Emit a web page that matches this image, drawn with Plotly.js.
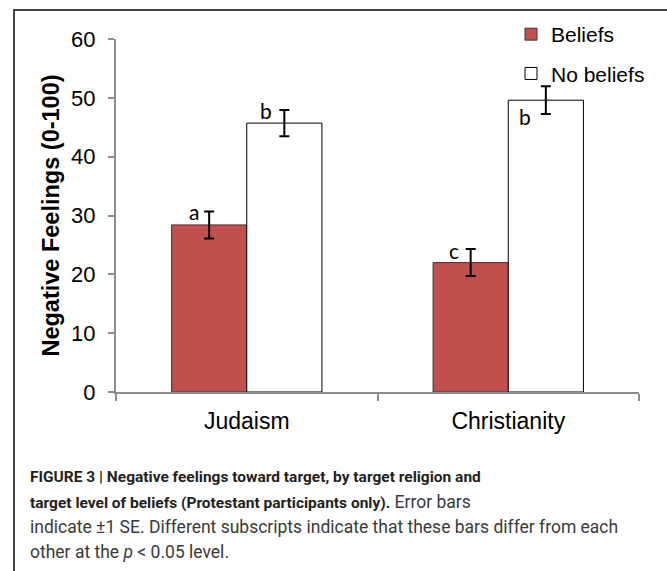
<!DOCTYPE html>
<html>
<head>
<meta charset="utf-8">
<script src="https://cdn.plot.ly/plotly-3.0.1.min.js"></script>
<style>
  html, body { margin: 0; padding: 0; background: #ffffff; }
  #chart { width: 667px; height: 571px; }
</style>
</head>
<body>
<div id="chart"></div>
<script>
// ---- data ----
const categories = ["Judaism", "Christianity"];
const beliefsValues = [28.4, 22.0];
const beliefsSE = [2.3, 2.3];
const noBeliefsValues = [45.7, 49.6];
const noBeliefsSE = [2.25, 2.35];
const seriesNames = ["Beliefs", "No beliefs"];
const beliefsLetters = ["a", "c"];
const noBeliefsLetters = ["b", "b"];
const yTicks = [0, 10, 20, 30, 40, 50, 60];
const yTitle = "Negative Feelings (0-100)";
const B = s => "<span style='font-size:15.5px;color:#231f20'><b>" + s + "</b></span>";
const captionLines = [
  B("FIGURE 3 | Negative feelings toward target, by target religion and"),
  B("target level of beliefs (Protestant participants only).") + " Error bars",
  "indicate \u00b11 SE. Different subscripts indicate that these bars differ from each",
  "other at the <i>p</i> &lt; 0.05 level."
];

// ---- layout geometry ----
const W = 667, H = 571;
const mL = 116, mR = 28, mT = 39, mB = 179;
const pw = W - mL - mR, ph = H - mT - mB;
const px = x => (x - mL) / pw;           // pixel -> paper x
const py = y => (H - mB - y) / ph;       // pixel -> paper y

const axisColor = "#8c8c8c";
const tickFont = "Liberation Sans, Arial, sans-serif";

const traces = [
  {
    type: "bar", name: seriesNames[0], x: categories, y: beliefsValues,
    legendgroup: "g1",
    marker: { color: "#C0504D", line: { color: "#3a3a3a", width: 1 } },
    error_y: { type: "data", array: beliefsSE, visible: true, color: "#000", thickness: 2, width: 5 },
    hoverinfo: "x+y"
  },
  {
    type: "bar", name: seriesNames[1], x: categories, y: noBeliefsValues,
    legendgroup: "g2",
    marker: { color: "#ffffff", line: { color: "#000000", width: 1 } },
    error_y: { type: "data", array: noBeliefsSE, visible: true, color: "#000", thickness: 2, width: 5 },
    hoverinfo: "x+y"
  }
];

// letter annotations (placed relative to each bar's error bar top)
const letterFont = { family: "Lato, Carlito, sans-serif", size: 21, color: "#000" };
const annotations = [
  { x: -0.203, y: beliefsValues[0] + beliefsSE[0] - 0.1, text: beliefsLetters[0] },
  { x: 0.074, y: noBeliefsValues[0] + noBeliefsSE[0] - 0.1, text: noBeliefsLetters[0] },
  { x: 0.792, y: beliefsValues[1] + beliefsSE[1] - 0.2, text: beliefsLetters[1] },
  { x: 1.063, y: noBeliefsValues[1] - 2.8, text: noBeliefsLetters[1] }
].map(a => Object.assign({
  xref: "x", yref: "y", showarrow: false, xanchor: "center", yanchor: "middle",
  font: letterFont
}, a));

const captionY = [477, 502, 527, 552];
captionLines.forEach((t, i) => {
  annotations.push({
    xref: "paper", yref: "paper", x: px(28), y: py(captionY[i]),
    xanchor: "left", yanchor: "middle", showarrow: false, align: "left",
    text: t,
    font: { family: "Roboto, Liberation Sans, sans-serif", size: 17.5, color: "#3a3a3a" }
  });
});

const shapes = [
  { type: "line", xref: "paper", yref: "paper", x0: px(14), x1: px(14), y0: py(10), y1: py(575),
    line: { color: "#444", width: 2 } },
  { type: "line", xref: "paper", yref: "paper", x0: px(13), x1: px(670), y0: py(10), y1: py(10),
    line: { color: "#444", width: 2 } }
];

const layout = {
  width: W, height: H,
  margin: { l: mL, r: mR, t: mT, b: mB, pad: 0 },
  paper_bgcolor: "#fff", plot_bgcolor: "#fff",
  barmode: "group", bargap: 0.425, bargroupgap: 0,
  showlegend: true,
  legend: {
    x: px(511), y: py(14), xanchor: "left", yanchor: "top",
    font: { family: tickFont, size: 21, color: "#000" },
    tracegroupgap: 9, traceorder: "grouped", bgcolor: "rgba(0,0,0,0)"
  },
  xaxis: {
    type: "category", range: [-0.5, 1.5],
    showline: true, linecolor: axisColor, linewidth: 2,
    ticks: "outside", tickson: "boundaries", ticklen: 7, tickcolor: axisColor, tickwidth: 2,
    ticklabelstandoff: 7,
    tickfont: { family: tickFont, size: 23, color: "#000" },
    showgrid: false, zeroline: false, fixedrange: true
  },
  yaxis: {
    range: [0, 60], tickvals: yTicks, ticktext: yTicks.map(String),
    showline: true, linecolor: axisColor, linewidth: 2,
    ticks: "outside", ticklen: 6, tickcolor: axisColor, tickwidth: 2,
    ticklabelstandoff: 8,
    tickfont: { family: tickFont, size: 22, color: "#000" },
    showgrid: false, zeroline: false, fixedrange: true,
    title: { text: "<b>" + yTitle + "</b>", font: { family: tickFont, size: 23.5, color: "#000" }, standoff: 5 }
  },
  annotations: annotations,
  shapes: shapes
};

Plotly.newPlot("chart", traces, layout, { displayModeBar: false, staticPlot: true });
</script>
</body>
</html>
